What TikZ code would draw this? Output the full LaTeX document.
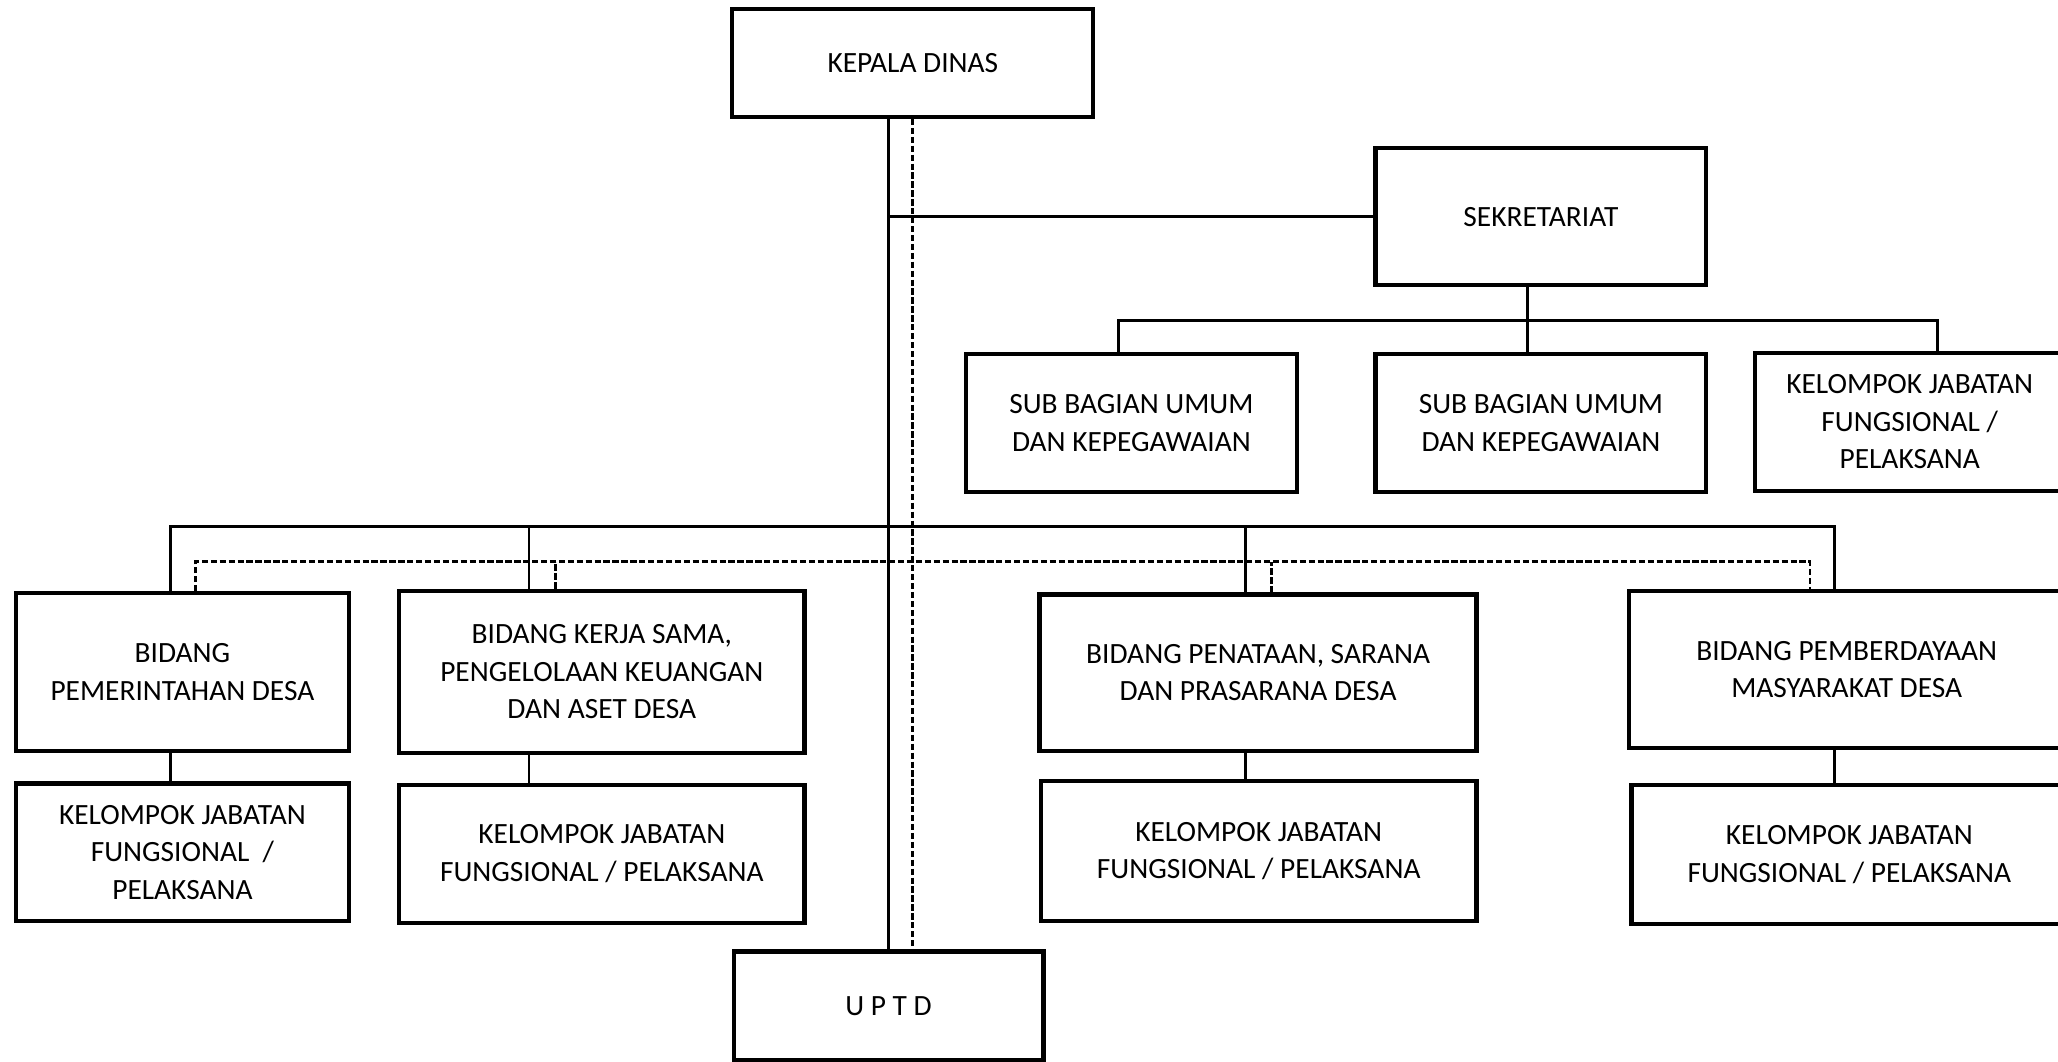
\documentclass[tikz,border=0pt]{standalone}
\usepackage{fontspec}
\setmainfont{Carlito}
\begin{document}
\begin{tikzpicture}[x=0.5pt, y=-0.5pt, font=\fontsize{11.2}{14.3}\selectfont,
  box/.style = {draw, rectangle, line width=1.6pt, align=center, inner sep=0pt},
  link/.style = {line width=1.1pt},
  dline/.style = {line width=1.1pt, dash pattern=on 2.4pt off 1pt}]
  \useasboundingbox (0,0) rectangle (1568,809);
  \node[box, minimum width=137.5pt, minimum height=41pt] (kd) at (695.5,48) {KEPALA DINAS};
  \node[box, minimum width=126pt, minimum height=52pt] (sek) at (1174,165) {SEKRETARIAT};
  \node[box, minimum width=126pt, minimum height=52.5pt] (sub1) at (862,322.5) {SUB BAGIAN UMUM\\DAN KEPEGAWAIAN};
  \node[box, minimum width=126pt, minimum height=52.5pt] (sub2) at (1174,322.5) {SUB BAGIAN UMUM\\DAN KEPEGAWAIAN};
  \node[box, minimum width=118pt, minimum height=52.5pt] (kjf) at (1455,321.5) {KELOMPOK JABATAN\\FUNGSIONAL /\\PELAKSANA};
  \node[box, minimum width=127pt, minimum height=60pt] (b1) at (139,512) {BIDANG\\PEMERINTAHAN DESA};
  \node[box, minimum width=154.5pt, minimum height=62pt] (b2) at (458.5,512) {BIDANG KERJA SAMA,\\PENGELOLAAN KEUANGAN\\DAN ASET DESA};
  \node[box, minimum width=166.5pt, minimum height=59.5pt] (b3) at (958.5,512.5) {BIDANG PENATAAN, SARANA\\DAN PRASARANA DESA};
  \node[box, minimum width=166pt, minimum height=60pt] (b4) at (1407,510) {BIDANG PEMBERDAYAAN\\MASYARAKAT DESA};
  \node[box, minimum width=127pt, minimum height=52.5pt] (k1) at (139,649.5) {KELOMPOK JABATAN\\FUNGSIONAL \ /\\PELAKSANA};
  \node[box, minimum width=154.5pt, minimum height=52.5pt] (k2) at (458.5,650.5) {KELOMPOK JABATAN\\FUNGSIONAL / PELAKSANA};
  \node[box, minimum width=166pt, minimum height=53.5pt] (k3) at (959,648.5) {KELOMPOK JABATAN\\FUNGSIONAL / PELAKSANA};
  \node[box, minimum width=166pt, minimum height=53pt] (k4) at (1409,651) {KELOMPOK JABATAN\\FUNGSIONAL / PELAKSANA};
  \node[box, minimum width=118pt, minimum height=41.5pt] (uptd) at (677,766.5) {U P T D};
  \coordinate (bus) at (0,401);
  \coordinate (dbus) at (0,428);
  \coordinate (sbus) at (0,244);
  \coordinate (u1) at ([xshift=-5pt]sub1.north);
  \coordinate (u3) at ([xshift=10.5pt]kjf.north);
  \foreach \n/\s/\d in {b1/-4.5/5, b2/-27.75/-17.75, b3/-4.75/5.25, b4/-4.5/-14} {
    \coordinate (\n s) at ([xshift=\s pt]\n.north);
    \coordinate (\n d) at ([xshift=\d pt]\n.north);
  }
  \draw[link] (uptd.north |- kd.south) -- (uptd.north);
  \draw[dline] (kd.south) -- (kd.south |- uptd.north);
  \draw[link] (uptd.north |- sek.west) -- (sek.west);
  \draw[link] ([xshift=-5pt]sek.south) -- ([xshift=-5pt]sub2.north);
  \draw[link] (u1) |- (u3 |- sbus) -- (u3);
  \draw[link] (b1s) |- (b4s |- bus) -- (b4s);
  \draw[link] (b2s) -- (b2s |- bus);
  \draw[link] (b3s) -- (b3s |- bus);
  \draw[dline] (b1d) |- (b4d |- dbus) -- (b4d);
  \draw[dline] (b2d) -- (b2d |- dbus);
  \draw[dline] (b3d) -- (b3d |- dbus);
  \foreach \n/\k in {b1/k1, b2/k2, b3/k3, b4/k4}
    \draw[link] (\n s |- \n.south) -- (\n s |- \k.north);
\end{tikzpicture}
\end{document}
